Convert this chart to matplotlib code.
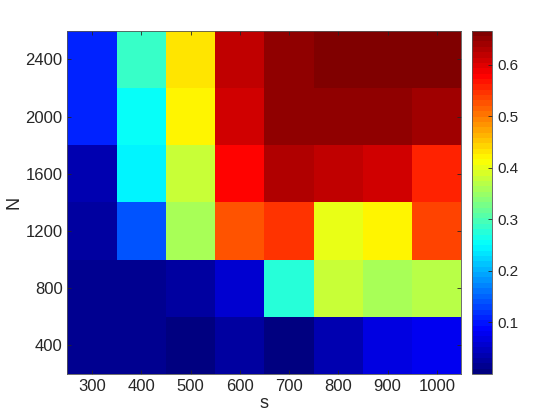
import numpy as np
import matplotlib
matplotlib.use("Agg")
import matplotlib.pyplot as plt
from matplotlib.colors import LinearSegmentedColormap

s_vals = [300, 400, 500, 600, 700, 800, 900, 1000]
N_vals = [400, 800, 1200, 1600, 2000, 2400]
# rows: N from 400 (bottom) to 2400 (top)
Z = [
    [0.016, 0.016, 0.005, 0.026, 0.005, 0.036, 0.068, 0.078],  # 400
    [0.016, 0.016, 0.026, 0.057, 0.276, 0.380, 0.359, 0.369],  # 800
    [0.026, 0.140, 0.359, 0.526, 0.546, 0.401, 0.421, 0.536],  # 1200
    [0.036, 0.245, 0.380, 0.578, 0.630, 0.619, 0.609, 0.557],  # 1600
    [0.109, 0.255, 0.421, 0.609, 0.650, 0.650, 0.650, 0.640],  # 2000
    [0.109, 0.286, 0.432, 0.619, 0.650, 0.661, 0.661, 0.661],  # 2400
]
cbar_ticks = [0.1, 0.2, 0.3, 0.4, 0.5, 0.6]

plt.rcParams['font.family'] = ['Liberation Sans', 'DejaVu Sans']
tc = '#262626'

# MATLAB-style jet
jet_nodes = [(0.0, (0, 0, 0.5)), (0.125, (0, 0, 1)), (0.375, (0, 1, 1)),
             (0.625, (1, 1, 0)), (0.875, (1, 0, 0)), (1.0, (0.5, 0, 0))]
cmap = LinearSegmentedColormap.from_list('mjet', jet_nodes, N=64)

fig = plt.figure(figsize=(5.6, 4.2), dpi=100)
ax = fig.add_axes([0.1205, 0.1095, 0.7036, 0.8174])
cax = fig.add_axes([0.8423, 0.1095, 0.0363, 0.8174])

Z = np.array(Z)
s = np.array(s_vals)
N = np.array(N_vals)
ds = s[1] - s[0]
dN = N[1] - N[0]
xe = np.concatenate([s - ds / 2, [s[-1] + ds / 2]])
ye = np.concatenate([N - dN / 2, [N[-1] + dN / 2]])
m = ax.pcolormesh(xe, ye, Z, cmap=cmap, vmin=0.0, vmax=0.666)

ax.set_xticks(s_vals)
ax.set_yticks(N_vals)
ax.tick_params(direction='in', top=True, right=True, length=3, width=0.6,
               colors=tc, labelsize=12, labelcolor=tc)
for sp in ax.spines.values():
    sp.set_color('#555555')
    sp.set_linewidth(0.6)
ax.set_xlabel('s', fontsize=13, color=tc, labelpad=1)
ax.set_ylabel('N', fontsize=13, color=tc, labelpad=2)

cb = fig.colorbar(m, cax=cax, ticks=cbar_ticks)
cb.ax.tick_params(direction='in', length=3, width=0.6, colors=tc, labelsize=11, labelcolor=tc)
cb.outline.set_edgecolor('#555555')
cb.outline.set_linewidth(0.6)

fig.savefig('out.png', dpi=100)
